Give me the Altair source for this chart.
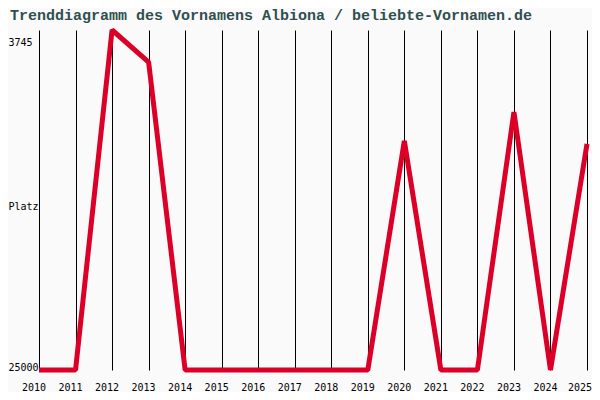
import altair as alt
import pandas as pd

years = [2010, 2011, 2012, 2013, 2014, 2015, 2016, 2017, 2018, 2019, 2020, 2021, 2022, 2023, 2024, 2025]
ranks = [25000, 25000, 3745, 5750, 25000, 25000, 25000, 25000, 25000, 25000, 10685, 25000, 25000, 8870, 25000, 10870]
y_ticks = [3745, 25000]
title_text = "Trenddiagramm des Vornamens Albiona / beliebte-Vornamen.de"
y_title = "Platz"

df = pd.DataFrame({"Jahr": years, "Platz": ranks})

mono = "DejaVu Sans Mono"

chart = (
    alt.Chart(df)
    .mark_line(color="#dc0028", strokeWidth=5, strokeJoin="bevel", strokeCap="butt")
    .encode(
        x=alt.X(
            "Jahr:Q",
            scale=alt.Scale(domain=[years[0], years[-1]], nice=False, zero=False),
            axis=alt.Axis(
                values=years,
                format="d",
                title=None,
                grid=True,
                gridColor="black",
                gridOpacity=1,
                gridWidth=1,
                ticks=False,
                domain=False,
                labelOffset={"condition": {"test": "datum.value == 2025", "value": -7.5}, "value": -5.5},
                labelPadding=12.5,
                labelBaseline="top",
                labelFont=mono,
                labelFontSize=10,
                labelColor="black",
                labelFlush=False,
                labelOverlap=False,
                labelBound=False,
            ),
        ),
        y=alt.Y(
            "Platz:Q",
            scale=alt.Scale(domain=[y_ticks[0], y_ticks[1]], reverse=True, nice=False, zero=False),
            axis=alt.Axis(
                values=y_ticks,
                format="d",
                title=y_title,
                titleAngle=0,
                titleAlign="left",
                titleBaseline="middle",
                titleX=-31,
                titleY=176,
                titleFont=mono,
                titleFontSize=10,
                titleFontWeight="normal",
                titleColor="black",
                grid=False,
                ticks=False,
                domain=False,
                labelAlign="left",
                labelBaseline="middle",
                labelPadding=31,
                labelOffset={"condition": {"test": "datum.value == 3745", "value": 12}, "value": -3},
                labelFont=mono,
                labelFontSize=10,
                labelColor="black",
                labelFlush=False,
                labelOverlap=False,
                labelBound=False,
            ),
        ),
    )
    .properties(
        width=548,
        height=340,
        autosize=alt.AutoSizeParams(type="none"),
        padding={"left": 31, "top": 22, "right": 5, "bottom": 22},
        background="#fafafa",
        title=alt.TitleParams(
            text=title_text,
            anchor="start",
            frame="group",
            orient="top",
            offset=5,
            dx=-29,
            font="Liberation Mono",
            fontSize=15,
            fontWeight="bold",
            color="#2f4f4f",
        ),
    )
    .configure_view(stroke=None)
)

chart.save("out.html", embed_options={"renderer": "svg", "actions": False})
